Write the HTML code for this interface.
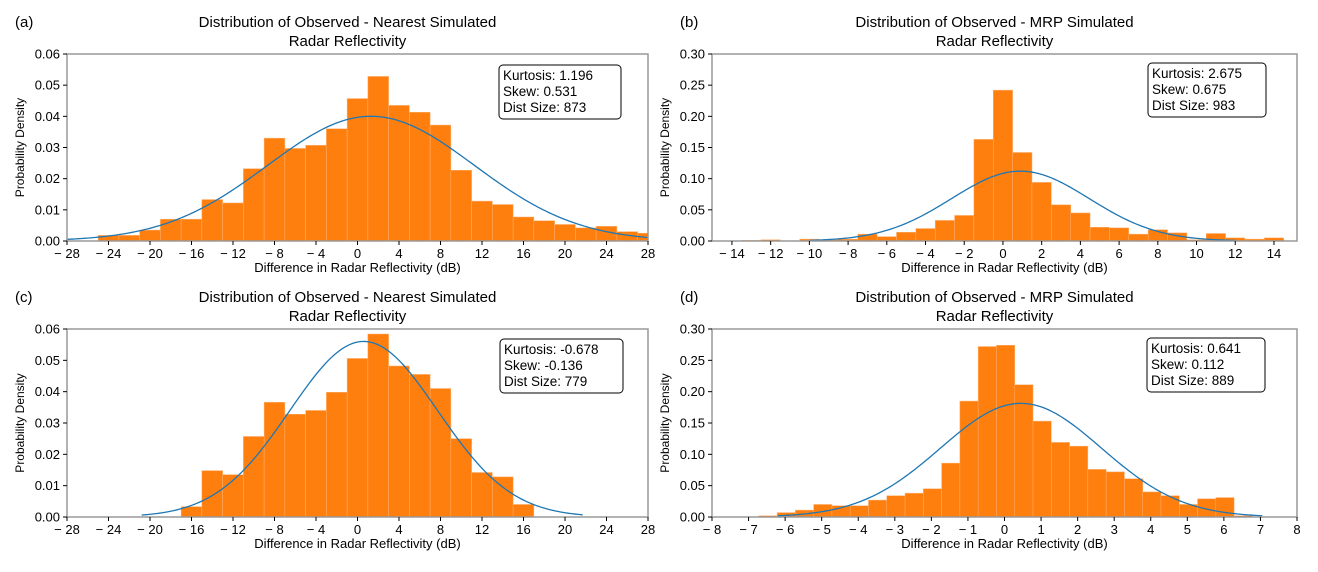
<!DOCTYPE html>
<html><head><meta charset="utf-8"><style>
body{margin:0;background:#fff;font-family:"Liberation Sans","DejaVu Sans",sans-serif;}
svg text{font-family:"Liberation Sans","DejaVu Sans",sans-serif;fill:#000;}
</style></head><body>
<svg id="fig" width="1318" height="567" xmlns="http://www.w3.org/2000/svg"></svg>
<script>
// Panel (a)
const aVals=[0.0018,0.0018,0.0035,0.007,0.007,0.0133,0.0122,0.0232,0.033,0.0297,0.0307,0.036,0.0457,0.0528,0.0435,0.0413,0.0372,0.0227,0.0128,0.0117,0.0077,0.0065,0.0053,0.0042,0.0047,0.003,0.0025];
const aStart=-25, aWidth=2;
const aXTicks=[-28,-24,-20,-16,-12,-8,-4,0,4,8,12,16,20,24,28];
const aYTicks=[0,0.01,0.02,0.03,0.04,0.05,0.06];
const aFit=[1.3,9.97];
const aStats=["Kurtosis: 1.196","Skew: 0.531","Dist Size: 873"];
// Panel (b)
const bVals=[0.001,0.002,0,0.003,0.002,0.003,0.011,0.007,0.014,0.020,0.033,0.041,0.163,0.242,0.142,0.094,0.058,0.045,0.022,0.021,0.011,0.018,0.013,0.002,0.012,0.005,0.003,0.005];
const bStart=-13.5, bWidth=1;
const bXTicks=[-14,-12,-10,-8,-6,-4,-2,0,2,4,6,8,10,12,14];
const bYTicks=[0,0.05,0.10,0.15,0.20,0.25,0.30];
const bFit=[0.9,3.56];
const bStats=["Kurtosis: 2.675","Skew: 0.675","Dist Size: 983"];
// Panel (c)
const cVals=[0.0033,0.0148,0.0135,0.0257,0.0366,0.0328,0.034,0.0398,0.0506,0.0584,0.0482,0.0455,0.041,0.025,0.0142,0.0128,0.004];
const cStart=-17, cWidth=2;
const cXTicks=[-28,-24,-20,-16,-12,-8,-4,0,4,8,12,16,20,24,28];
const cYTicks=[0,0.01,0.02,0.03,0.04,0.05,0.06];
const cFit=[0.6,7.12];
const cStats=["Kurtosis: -0.678","Skew: -0.136","Dist Size: 779"];
// Panel (d)
const dVals=[0.002,0.007,0.011,0.020,0.018,0.018,0.027,0.034,0.038,0.045,0.086,0.185,0.272,0.274,0.211,0.153,0.119,0.113,0.076,0.072,0.061,0.040,0.034,0.020,0.029,0.031,0.002];
const dStart=-6.72, dWidth=0.5;
const dXTicks=[-8,-7,-6,-5,-4,-3,-2,-1,0,1,2,3,4,5,6,7,8];
const dYTicks=[0,0.05,0.10,0.15,0.20,0.25,0.30];
const dFit=[0.45,2.2];
const dStats=["Kurtosis: 0.641","Skew: 0.112","Dist Size: 889"];

const NS="http://www.w3.org/2000/svg";
const svg=document.getElementById('fig');
function mk(tag,attrs,parent,txt){const e=document.createElementNS(NS,tag);for(const k in attrs)e.setAttribute(k,attrs[k]);if(txt!==undefined)e.textContent=txt;(parent||svg).appendChild(e);return e;}
function fmtX(v){return v<0?"\u2212 "+Math.abs(v):String(v);}

function panel(o){
  const g=mk('g',{});
  
  
  const X=v=>o.x0+(v-o.xmin)/(o.xmax-o.xmin)*(o.x1-o.x0);
  const Y=v=>o.y1-(v/o.ymax)*(o.y1-o.y0);
  const cp=mk('clipPath',{id:'clip'+o.id},g);
  mk('rect',{x:o.x0,y:o.y0,width:o.x1-o.x0,height:o.y1-o.y0},cp);
  const bars=mk('g',{'clip-path':'url(#clip'+o.id+')'},g);
  o.vals.forEach((v,i)=>{
    if(v<=0)return;
    const l=X(o.start+i*o.w), r=X(o.start+(i+1)*o.w);
    const b=mk('rect',{x:l,y:Y(v),width:r-l,height:o.y1-Y(v),fill:'#ff7f0e',stroke:'#ffb070','stroke-width':0.5},bars);
    
    
  });
  // gaussian
  let d='';const n=200;
  for(let i=0;i<=n;i++){const x=o.cx0+(o.cx1-o.cx0)*i/n;const y=Math.exp(-0.5*Math.pow((x-o.fit[0])/o.fit[1],2))/(o.fit[1]*Math.sqrt(2*Math.PI));d+=(i?'L':'M')+X(x).toFixed(2)+','+Y(y).toFixed(2);}
  const fl=mk('path',{d:d,fill:'none',stroke:'#1f77b4','stroke-width':1.3,'clip-path':'url(#clip'+o.id+')'},g);
  
  
  const fr=mk('rect',{x:o.x0,y:o.y0,width:o.x1-o.x0,height:o.y1-o.y0,fill:'none',stroke:'#999','stroke-width':1.5},g);
  
  
  o.xt.forEach(t=>{const x=X(t);mk('line',{x1:x,x2:x,y1:o.y1,y2:o.y1+4,stroke:'#000'},g);
    const tx=mk('text',{x:x,y:o.y1+17,'font-size':13,'text-anchor':'middle'},g,fmtX(t));
    
    });
  o.yt.forEach(t=>{const y=Y(t);mk('line',{x1:o.x0-4,x2:o.x0,y1:y,y2:y,stroke:'#000'},g);
    const tx=mk('text',{x:o.x0-7,y:y+4.5,'font-size':13,'text-anchor':'end'},g,t.toFixed(2));
    
    });
  const xl=mk('text',{x:(o.x0+o.x1)/2,y:o.y1+31,'font-size':13,'text-anchor':'middle'},g,'Difference in Radar Reflectivity (dB)');
  
  
  const yl=mk('text',{x:0,y:0,'font-size':12,'text-anchor':'middle',transform:'translate('+(o.x0-43)+','+((o.y0+o.y1)/2)+') rotate(-90)'},g,'Probability Density');
  
  
  const cx=(o.x0+o.x1)/2;
  const t1=mk('text',{x:cx-10,y:o.y0-27,'font-size':15,'text-anchor':'middle'},g,o.title);
  
  
  const t2=mk('text',{x:cx-10,y:o.y0-8,'font-size':15,'text-anchor':'middle'},g,'Radar Reflectivity');
  
  
  const lb=mk('text',{x:o.lx,y:o.y0-27,'font-size':15},g,'('+o.id+')');
  
  
  const sb=mk('rect',{x:o.bx,y:o.by,width:o.bw,height:54,rx:4,fill:'#fff',stroke:'#000','stroke-width':1},g);
  
  
  o.stats.forEach((s,i)=>{const st=mk('text',{x:o.bx+4,y:o.by+15+i*16,'font-size':13.5},g,s);
    
    });
}
panel({id:'a',x0:67,x1:648,y0:54,y1:241,xmin:-28,xmax:28,ymax:0.06,vals:aVals,start:aStart,w:aWidth,xt:aXTicks,yt:aYTicks,fit:aFit,cx0:-28,cx1:28,stats:aStats,title:'Distribution of Observed - Nearest Simulated',lx:15,bx:499,by:65,bw:122});
panel({id:'b',x0:712,x1:1297,y0:54,y1:241,xmin:-15.03,xmax:15.19,ymax:0.30,vals:bVals,start:bStart,w:bWidth,xt:bXTicks,yt:bYTicks,fit:bFit,cx0:-10,cx1:12,stats:bStats,title:'Distribution of Observed - MRP Simulated',lx:680,bx:1148,by:63,bw:118});
panel({id:'c',x0:67,x1:648,y0:329,y1:517,xmin:-28,xmax:28,ymax:0.06,vals:cVals,start:cStart,w:cWidth,xt:cXTicks,yt:cYTicks,fit:cFit,cx0:-20.8,cx1:21.7,stats:cStats,title:'Distribution of Observed - Nearest Simulated',lx:15,bx:500,by:339,bw:123});
panel({id:'d',x0:712,x1:1297,y0:329,y1:517,xmin:-8,xmax:8,ymax:0.30,vals:dVals,start:dStart,w:dWidth,xt:dXTicks,yt:dYTicks,fit:dFit,cx0:-6.2,cx1:7.05,stats:dStats,title:'Distribution of Observed - MRP Simulated',lx:680,bx:1147,by:338,bw:118});
</script>
</body></html>
